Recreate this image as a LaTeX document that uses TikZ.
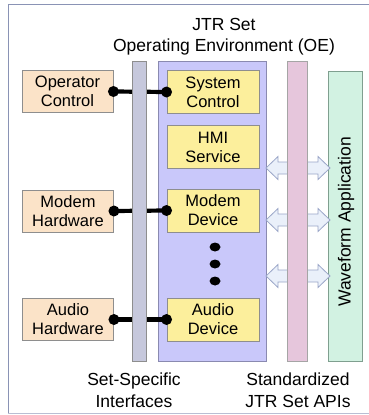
\documentclass[tikz,border=0pt]{standalone}
\usepackage{fontspec}
\setmainfont{Liberation Sans}
\usetikzlibrary{shapes.geometric}
\definecolor{frameblue}{HTML}{8A93B5}
\definecolor{peach}{HTML}{FBE3C8}
\definecolor{devyellow}{HTML}{FCEF9C}
\definecolor{oeblue}{HTML}{C9C8FA}
\definecolor{oeline}{HTML}{8A8AB0}
\definecolor{barGray}{HTML}{C6C8DC}
\definecolor{barPink}{HTML}{E6C6DC}
\definecolor{wfGreen}{HTML}{D2F2E2}
\definecolor{wfLine}{HTML}{7F9F8F}
\definecolor{arrowFill}{HTML}{EAF0FA}
\definecolor{arrowLine}{HTML}{9AA6C8}
\definecolor{boxLine}{HTML}{8E8E8E}
\tikzset{
  x=1pt, y=-1pt,
  boxtext/.style={font=\fontsize{16.5}{19}\selectfont, align=center, inner sep=0pt},
  hwbox/.style={boxtext, draw=boxLine, fill=peach, line width=0.9pt, minimum width=91pt, minimum height=42pt},
  devbox/.style={boxtext, draw=boxLine, fill=devyellow, line width=0.9pt, minimum width=92pt, minimum height=43pt},
  bar/.style={draw=boxLine, line width=0.9pt, inner sep=0pt},
  link/.style={line width=4.2pt, black},
  joint/.style={circle, fill=black, inner sep=0pt, minimum size=11pt},
  dotmark/.style={ellipse, fill=black, inner sep=0pt, minimum width=11pt, minimum height=9pt},
  apiarrow/.style={draw=arrowLine, fill=arrowFill, line width=0.8pt, line join=miter},
  caption/.style={font=\fontsize{17.5}{21}\selectfont, align=center, inner sep=0pt}
}
\begin{document}
\begin{tikzpicture}
\useasboundingbox (0,0) rectangle (369,415);
% outer frame
\fill[white] (0,0) rectangle (369,415);
\draw[frameblue, line width=1pt] (8,413) -- (8,4) -- (369,4);
\draw[frameblue!60, line width=0.8pt] (8,413) -- (369,413);

% headings
\node[caption] (title) at (224,37) {JTR Set\\Operating Environment (OE)};
\node[caption, font=\fontsize{17.5}{22.5}\selectfont] (sslabel) at (134,390) {Set-Specific\\Interfaces};
\node[caption, font=\fontsize{17.5}{22.5}\selectfont] (apilabel) at (298,390) {Standardized\\JTR Set APIs};

% operating environment container
\node[draw=oeline, fill=oeblue, line width=0.9pt, minimum width=108pt, minimum height=300pt, inner sep=0pt] (oe) at (212,211) {};

% waveform application
\node[draw=wfLine, fill=wfGreen, line width=0.9pt, minimum width=34pt, minimum height=290pt, inner sep=0pt] (wf) at (345,216) {};
\node[boxtext, font=\fontsize{17.5}{19}\selectfont, rotate=90] (wftext) at (346,222) {Waveform Application};

% API arrows (double block arrows between OE and the waveform)
\foreach \yy in {168,220,276}{
  \filldraw[apiarrow] (266,\yy) -- (278,\yy-11.5) -- (278,\yy-6) -- (318,\yy-6) -- (318,\yy-11.5)
     -- (330,\yy) -- (318,\yy+11.5) -- (318,\yy+6) -- (278,\yy+6) -- (278,\yy+11.5) -- cycle;
}

% hardware boxes
\node[hwbox] (opctl) at (67.5,91.5) {Operator\\Control};
\node[hwbox] (modemhw) at (68,211) {Modem\\Hardware};
\node[hwbox] (audiohw) at (68,319.5) {Audio\\Hardware};

% device boxes
\node[devbox] (sysctl) at (213,92) {System\\Control};
\node[devbox] (hmi) at (213,147) {HMI\\Service};
\node[devbox] (modemdev) at (213,210.5) {Modem\\Device};
\node[devbox] (audiodev) at (213,319.5) {Audio\\Device};

% ellipsis dots
\node[dotmark] (d1) at (215,247) {};
\node[dotmark] (d2) at (215,264) {};
\node[dotmark] (d3) at (215,281) {};

% links from hardware to devices
\draw[link] (opctl.east) -- (sysctl.west);
\draw[link] (modemhw.east) -- (modemdev.west);
\draw[link] (audiohw.east) -- (audiodev.west);
\foreach \n in {opctl.east,sysctl.west,modemhw.east,modemdev.west,audiohw.east,audiodev.west}{
  \node[joint] at (\n) {};
}

% interface bars drawn over the links and arrows
\node[bar, fill=barGray, minimum width=14pt, minimum height=300pt] (ssbar) at (139,211) {};
\node[bar, fill=barPink, draw=boxLine!80, minimum width=20pt, minimum height=300pt] (apibar) at (297.5,211) {};
\end{tikzpicture}
\end{document}
